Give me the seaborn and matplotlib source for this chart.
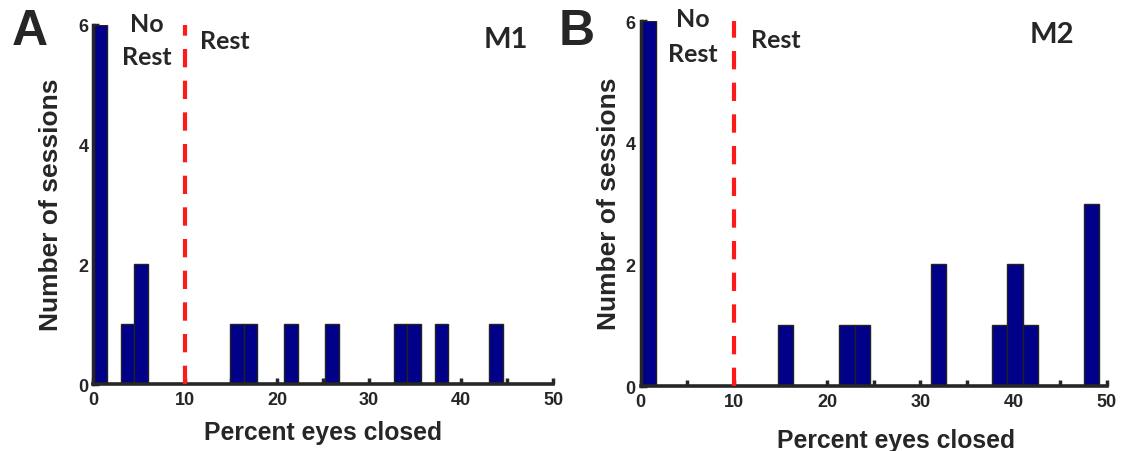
import numpy as np
import pandas as pd
import matplotlib
matplotlib.use("Agg")
import matplotlib.pyplot as plt
import seaborn as sns

# histogram bins (bin centre in % eyes closed, count)
m1_pct = [0.7, 3.7, 5.2, 15.6, 17.1, 21.5, 26.0, 33.4, 34.9, 37.9, 43.8]
m1_count = [6, 1, 2, 1, 1, 1, 1, 1, 1, 1, 1]
m1_binwidth = 1.485

m2_pct = [0.8, 15.6, 22.1, 23.8, 32.0, 38.5, 40.2, 41.8, 48.4]
m2_count = [6, 1, 1, 1, 2, 1, 2, 1, 3]
m2_binwidth = 1.64

rest_cutoff = 10
x_ticks = [0, 5, 10, 15, 20, 25, 30, 35, 40, 45, 50]
x_ticklabels = ["0", "", "10", "", "20", "", "30", "", "40", "", "50"]
y_ticks = [0, 1, 2, 3, 4, 5, 6]
y_ticklabels = ["0", "", "2", "", "4", "", "6"]

sns.set_style("ticks")
plt.rcParams['font.family'] = ['Liberation Sans', 'DejaVu Sans']

bar_color = "#000088"
note_font = ['Lato', 'DejaVu Sans']

fig = plt.figure(figsize=(11.22, 4.52), dpi=100)
ax_a = fig.add_axes([0.0832, 0.1482, 0.4097, 0.7943])
ax_b = fig.add_axes([0.571, 0.1438, 0.4153, 0.8075])

# per panel: axes, data, bin width, panel letter (fig x), monkey name,
# text anchors (data coords, baseline), ylabel centre, xlabel baseline
panels = [
    (ax_a, m1_pct, m1_count, m1_binwidth, "A", 0.0263, "M1",
     dict(no=(5.8, 5.90), no_rest=(5.8, 5.35), rest=(14.35, 5.62), monkey=(44.85, 5.64)),
     (-0.092, 0.501), (0.4986, -0.153)),
    (ax_b, m2_pct, m2_count, m2_binwidth, "B", 0.5143, "M2",
     dict(no=(5.58, 5.92), no_rest=(5.58, 5.35), rest=(14.55, 5.58), monkey=(44.1, 5.66)),
     (-0.067, 0.503), (0.548, -0.167)),
]

for ax, pct, cnt, bw, letter, letter_x, monkey, pos, ylab_xy, xlab_xy in panels:
    df = pd.DataFrame({"pct": pct, "n": cnt})
    sns.histplot(data=df, x="pct", weights="n", binwidth=bw, binrange=(0, 30 * bw),
                 color=bar_color, alpha=1, edgecolor="#222222", linewidth=1, ax=ax)

    # rest / no rest threshold
    ax.plot([rest_cutoff, rest_cutoff], [0, 6], color="#ff1a1a", lw=3,
            dashes=(4.4, 3.2), zorder=3, clip_on=False)

    ax.set_xlim(0, 50)
    ax.set_ylim(0, 6)
    ax.set_xticks(x_ticks)
    ax.set_xticklabels(x_ticklabels)
    ax.set_yticks(y_ticks)
    ax.set_yticklabels(y_ticklabels)
    ax.tick_params(direction="in", length=4, width=2.5, labelsize=13)
    ax.tick_params(axis="x", pad=5)
    ax.tick_params(axis="y", pad=3.5)
    for lab in ax.get_xticklabels() + ax.get_yticklabels():
        lab.set_fontweight("bold")

    sns.despine(ax=ax)
    ax.spines["left"].set_linewidth(2.5)
    ax.spines["bottom"].set_linewidth(2.6)

    ax.set_ylabel("Number of sessions", fontsize=19, fontweight="bold", va="center")
    ax.set_xlabel("Percent eyes closed", fontsize=17.8, fontweight="bold", va="baseline")
    ax.yaxis.set_label_coords(*ylab_xy)
    ax.xaxis.set_label_coords(*xlab_xy)

    txt = dict(fontsize=18, fontweight="bold", family=note_font,
               ha="center", va="baseline", clip_on=False)
    ax.text(*pos["no"], "No", **txt)
    ax.text(*pos["no_rest"], "Rest", **txt)
    ax.text(*pos["rest"], "Rest", **txt)
    ax.text(*pos["monkey"], monkey, **dict(txt, fontsize=21))

    fig.text(letter_x, 0.9004, letter, fontsize=36, fontweight="bold",
             ha="center", va="baseline")

fig.savefig("out.png", dpi=100)
